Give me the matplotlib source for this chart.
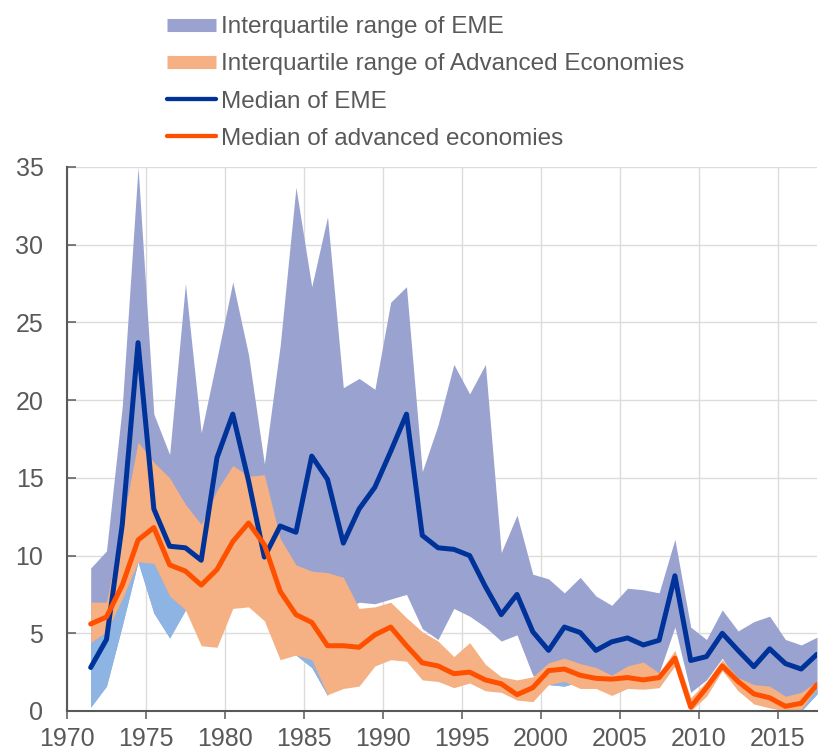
import numpy as np
import matplotlib
matplotlib.use("Agg")
import matplotlib.pyplot as plt
from matplotlib.lines import Line2D

plt.rcParams["font.family"] = ["Liberation Sans", "DejaVu Sans"]

years = np.arange(1971, 2018)

# interquartile range of EME (75th / 25th percentile)
eme_hi = [9.2, 10.3, 19.6, 35.0, 19.1, 16.5, 27.5, 17.9, 22.7, 27.6,
          22.9, 15.9, 23.5, 33.7, 27.3, 31.8, 20.8, 21.4, 20.7, 26.3,
          27.3, 15.4, 18.4, 22.3, 20.4, 22.3, 10.2, 12.6, 8.8, 8.5,
          7.6, 8.6, 7.4, 6.8, 7.9, 7.8, 7.6, 11.05, 5.4, 4.6,
          6.5, 5.15, 5.75, 6.1, 4.6, 4.25, 4.75]
eme_lo = [0.25, 1.6, 5.5, 9.6, 6.3, 4.7, 6.5, 6.0, 8.0, 9.0,
          9.5, 8.0, 5.0, 3.6, 2.8, 1.0, 6.5, 7.0, 6.9, 7.2,
          7.5, 5.3, 4.6, 6.6, 6.1, 5.4, 4.5, 4.9, 2.3, 1.7,
          1.6, 1.9, 1.8, 1.6, 1.9, 2.0, 2.45, 5.4, 1.2, 2.0,
          3.4, 1.8, 1.2, 1.0, 0.5, 0.0, 1.1]
eme_med = [2.8, 4.6, 12.0, 23.7, 13.0, 10.6, 10.5, 9.7, 16.3, 19.1,
           14.8, 9.9, 11.9, 11.5, 16.4, 14.9, 10.8, 13.0, 14.4, 16.7,
           19.1, 11.3, 10.5, 10.4, 10.0, 8.0, 6.2, 7.5, 5.1, 3.9,
           5.4, 5.05, 3.9, 4.45, 4.7, 4.25, 4.55, 8.7, 3.25, 3.5,
           5.0, 3.9, 2.85, 4.0, 3.05, 2.7, 3.65]

# interquartile range of advanced economies
ae_hi = [7.0, 7.0, 12.0, 17.3, 16.0, 15.0, 13.3, 12.0, 14.2, 15.8,
         15.1, 15.2, 11.1, 9.4, 9.0, 8.9, 8.6, 6.6, 6.7, 7.0,
         6.0, 5.1, 4.5, 3.5, 4.4, 3.0, 2.2, 2.0, 2.2, 3.1,
         3.4, 3.05, 2.8, 2.3, 2.9, 3.15, 2.45, 3.9, 0.85, 1.9,
         3.3, 2.15, 1.7, 1.6, 0.95, 1.2, 1.9]
ae_lo = [4.4, 5.1, 7.2, 9.6, 9.5, 7.4, 6.5, 4.2, 4.1, 6.6,
         6.7, 5.8, 3.3, 3.6, 3.3, 1.05, 1.45, 1.6, 2.9, 3.3,
         3.2, 2.0, 1.9, 1.5, 1.8, 1.3, 1.2, 0.7, 0.6, 1.7,
         1.9, 1.45, 1.45, 1.0, 1.45, 1.4, 1.5, 2.9, 0.0, 0.95,
         2.6, 1.3, 0.45, 0.2, 0.0, 0.1, 1.5]
ae_med = [5.6, 6.05, 8.1, 11.0, 11.8, 9.4, 9.0, 8.1, 9.1, 10.9,
          12.1, 10.7, 7.7, 6.2, 5.7, 4.2, 4.2, 4.1, 4.9, 5.4,
          4.2, 3.1, 2.9, 2.4, 2.5, 2.0, 1.75, 1.05, 1.5, 2.6,
          2.7, 2.3, 2.1, 2.05, 2.15, 2.0, 2.15, 3.4, 0.25, 1.5,
          2.9, 1.9, 1.1, 0.85, 0.3, 0.5, 1.7]

labels = ["Interquartile range of EME",
          "Interquartile range of Advanced Economies",
          "Median of EME",
          "Median of advanced economies"]

c_eme_band = "#9aa3d0"
c_eme_low = "#8db4e2"
c_ae_band = "#f5b183"
c_eme_line = "#003399"
c_ae_line = "#ff5000"
c_axis = "#595959"

x = years + 0.5
eme_hi = np.array(eme_hi)
eme_lo = np.array(eme_lo)
ae_lo = np.array(ae_lo)

fig = plt.figure(figsize=(8.18, 7.52), dpi=100)
ax = fig.add_axes([67 / 818, 1 - 711 / 752, 750 / 818, 544 / 752])

ax.fill_between(x, eme_lo, eme_hi, color=c_eme_band, lw=0, zorder=2)
# part of the EME band that sits below the advanced-economy band
low_top = np.maximum(eme_lo, np.minimum(ae_lo, eme_hi))
ax.fill_between(x, eme_lo, low_top, color=c_eme_low, lw=0, zorder=2.5)
ax.fill_between(x, ae_lo, ae_hi, color=c_ae_band, lw=0, zorder=3)
ax.plot(x, eme_med, color=c_eme_line, lw=3.6, solid_joinstyle="round",
        solid_capstyle="round", zorder=4)
ax.plot(x, ae_med, color=c_ae_line, lw=3.6, solid_joinstyle="round",
        solid_capstyle="round", zorder=5)

ax.set_xlim(1970, 2017.5)
ax.set_ylim(0, 35)
ax.set_xticks(range(1970, 2016, 5))
ax.set_yticks(range(0, 36, 5))
ax.grid(True, color="#dcdcdc", lw=1.0)
ax.set_axisbelow(True)

for s in ["top", "right"]:
    ax.spines[s].set_visible(False)
for s in ["left", "bottom"]:
    ax.spines[s].set_color(c_axis)
    ax.spines[s].set_linewidth(1.5)
    ax.spines[s].set_zorder(6)

ax.tick_params(axis="y", direction="in", length=6.5, width=1.1, color=c_axis,
               labelcolor=c_axis, labelsize=18, pad=17)
ax.tick_params(axis="x", direction="out", length=6, width=1.1, color=c_axis,
               labelcolor=c_axis, labelsize=18, pad=5.5)

handles = [
    Line2D([], [], color=c_eme_band, lw=9.4, solid_capstyle="butt"),
    Line2D([], [], color=c_ae_band, lw=9.4, solid_capstyle="butt"),
    Line2D([], [], color=c_eme_line, lw=3.1, solid_capstyle="round"),
    Line2D([], [], color=c_ae_line, lw=3.1, solid_capstyle="round"),
]
fig.legend(handles, labels, loc="upper left",
           bbox_to_anchor=(167 / 818, 1 - 16 / 752), frameon=False,
           fontsize=17.5, labelcolor=c_axis, handlelength=2.0,
           handletextpad=0.22, labelspacing=0.63, borderpad=0,
           borderaxespad=0)

fig.savefig("out.png", dpi=100)
